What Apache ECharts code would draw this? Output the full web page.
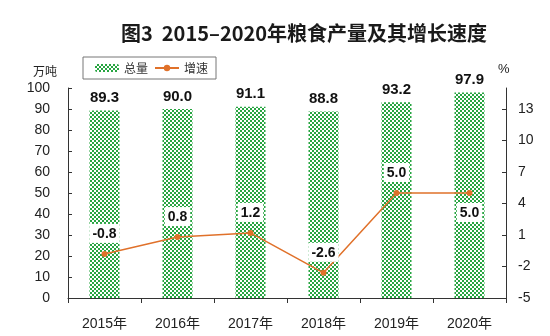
<!DOCTYPE html>
<html>
<head>
<meta charset="utf-8">
<script src="https://cdn.jsdelivr.net/npm/echarts@6/dist/echarts.min.js"></script>
<style>
  html, body { margin: 0; padding: 0; background: #fff; }
  #chart { width: 550px; height: 336px; }
</style>
</head>
<body>
<div id="chart"></div>
<script>
// Grain output (10k tonnes scale) and year-on-year growth, 2015–2020
const categories = ['2015年', '2016年', '2017年', '2018年', '2019年', '2020年'];
const totalOutput = [89.3, 90.0, 91.1, 88.8, 93.2, 97.9];
const growthRate = [-0.8, 0.8, 1.2, -2.6, 5.0, 5.0];
const rightTicks = [-5, -2, 1, 4, 7, 10, 13];
// growth labels sit above the point, except the last one
const growthLabelPos = ['top', 'top', 'top', 'top', 'top', 'bottom'];

const FONT = "'Liberation Sans', Arial, 'Noto Sans CJK SC', sans-serif";
const ORANGE = '#E0712A';

// checkered green fill for the bars
function makePattern() {
  const c = document.createElement('canvas');
  c.width = 4; c.height = 4;
  const g = c.getContext('2d');
  g.fillStyle = '#27a541';
  g.fillRect(0, 0, 4, 4);
  g.fillStyle = '#ffffff';
  g.fillRect(0, 0, 2, 2);
  g.fillRect(2, 2, 2, 2);
  return c;
}
const barFill = { image: makePattern(), repeat: 'repeat' };

const chart = echarts.init(document.getElementById('chart'), null, { renderer: 'canvas' });

chart.setOption({
  animation: false,
  textStyle: { fontFamily: FONT },
  title: {
    text: '图3  2015–2020年粮食产量及其增长速度',
    left: 299,
    textAlign: 'center',
    top: 18,
    textStyle: {
      fontFamily: "'Noto Sans CJK SC', sans-serif",
      fontSize: 20,
      fontWeight: 'bold',
      color: '#1a1a1a'
    }
  },
  graphic: [
    {
      type: 'text', left: 33, top: 65,
      style: { text: '万吨', fontSize: 12, fill: '#222', fontFamily: "'Noto Sans CJK SC', sans-serif" }
    },
    {
      type: 'text', left: 498, top: 63,
      style: { text: '%', fontSize: 13, fill: '#222', fontFamily: FONT }
    }
  ],
  legend: {
    left: 83,
    top: 57,
    padding: [5, 8, 5, 12],
    itemGap: 6,
    itemWidth: 24,
    itemHeight: 8,
    borderColor: '#777',
    borderWidth: 1,
    borderRadius: 0,
    textStyle: { fontSize: 12, color: '#333', fontFamily: "'Noto Sans CJK SC', sans-serif" },
    data: ['总量', '增速']
  },
  grid: { left: 68, right: 44, top: 88, bottom: 38, containLabel: false },
  xAxis: {
    type: 'category',
    data: categories,
    boundaryGap: true,
    axisLine: { lineStyle: { color: '#333', width: 1 } },
    axisTick: { show: true, inside: false, length: 5, alignWithLabel: false, lineStyle: { color: '#333' } },
    axisLabel: { fontSize: 14, color: '#222', margin: 19, fontFamily: FONT },
    splitLine: { show: false }
  },
  yAxis: [
    {
      type: 'value',
      min: 0, max: 100, interval: 10,
      axisLine: { show: true, lineStyle: { color: '#333' } },
      axisTick: { show: true, inside: true, length: 4, lineStyle: { color: '#333' } },
      axisLabel: { fontSize: 14, color: '#222', margin: 18, fontFamily: FONT },
      splitLine: { show: false }
    },
    {
      type: 'value',
      min: -5, max: 15, interval: 3,
      position: 'right',
      axisLine: { show: true, lineStyle: { color: '#333' } },
      axisTick: { show: true, inside: true, length: 4, lineStyle: { color: '#333' }, customValues: rightTicks },
      axisLabel: { fontSize: 14, color: '#222', margin: 12, fontFamily: FONT, customValues: rightTicks },
      splitLine: { show: false }
    }
  ],
  series: [
    {
      name: '总量',
      type: 'bar',
      yAxisIndex: 0,
      data: totalOutput,
      barWidth: 30,
      itemStyle: { color: barFill },
      label: {
        show: true,
        position: 'top',
        distance: 5,
        fontSize: 15,
        fontWeight: 'bold',
        color: '#111',
        fontFamily: FONT,
        formatter: p => p.value.toFixed(1)
      },
      z: 2
    },
    {
      name: '增速',
      type: 'line',
      yAxisIndex: 1,
      data: growthRate.map((v, i) => ({
        value: v,
        label: { position: growthLabelPos[i], distance: growthLabelPos[i] === 'top' ? 8 : 7 }
      })),
      symbol: 'circle',
      symbolSize: 6,
      lineStyle: { color: ORANGE, width: 1.5 },
      itemStyle: { color: ORANGE },
      label: {
        show: true,
        fontSize: 14,
        fontWeight: 'bold',
        color: '#111',
        fontFamily: FONT,
        backgroundColor: '#fff',
        padding: [3, 3, 2, 3],
        formatter: p => p.value.toFixed(1)
      },
      z: 3
    }
  ]
});
</script>
</body>
</html>
